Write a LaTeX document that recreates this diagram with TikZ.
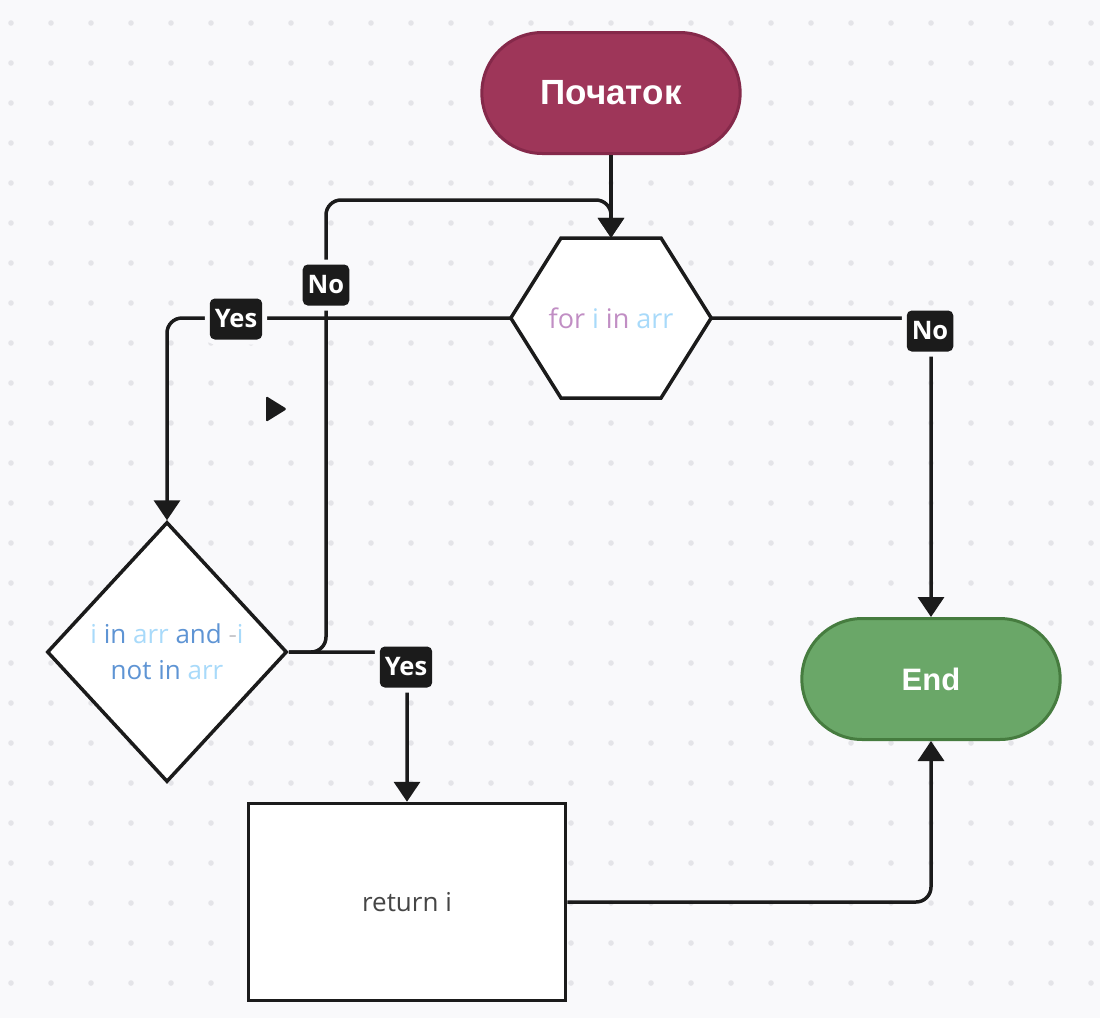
\documentclass[tikz,border=0pt]{standalone}
\usepackage{fontspec}
\setmainfont{Open Sans}
\newfontfamily\headfont{Liberation Sans}
\usetikzlibrary{shapes.misc,shapes.geometric,arrows.meta}
\definecolor{bg}{HTML}{F9F9FB}
\definecolor{dotc}{HTML}{E4E4E8}
\definecolor{ink}{HTML}{1B1B1B}
\definecolor{startfill}{HTML}{9E3659}
\definecolor{startdraw}{HTML}{85294A}
\definecolor{endfill}{HTML}{6AA768}
\definecolor{enddraw}{HTML}{467C3F}
\definecolor{mauve}{HTML}{C18EC4}
\definecolor{lblue}{HTML}{A8DAFA}
\definecolor{dblue}{HTML}{5E94D4}
\definecolor{minusc}{HTML}{C8C8CC}
\definecolor{txtgray}{HTML}{454545}
\tikzset{
  terminal/.style={rounded rectangle, minimum width=265pt, minimum height=121pt, line width=3pt, text=white, font=\headfont\bfseries\fontsize{31}{36}\selectfont},
  conn/.style={draw=ink, line width=3.5pt, rounded corners=15pt},
  arr/.style={-{Triangle[length=20pt,width=26pt]}},
  shapebox/.style={draw=ink, line width=3.5pt, fill=white},
  lbl/.style={fill=ink, text=white, rounded corners=5pt, inner xsep=5pt, inner ysep=0pt, minimum height=41pt,
     font=\bfseries\fontsize{25.5}{28}\selectfont, preaction={draw=bg, line width=10pt}},
  codetext/.style={font=\fontsize{26}{36}\selectfont, align=center}
}
\begin{document}
\begin{tikzpicture}[x=1pt,y=-1pt]
\fill[bg] (0,0) rectangle (1100,1018);
\useasboundingbox (0,0) rectangle (1100,1018);
\foreach \i in {0,...,27}{
  \foreach \j in {0,...,24}{
    \fill[dotc] (11+40*\i, 23+40*\j) circle (2.8pt);
  }
}
% nodes
\node[terminal, fill=startfill, draw=startdraw, font=\headfont\bfseries\fontsize{35}{40}\selectfont] (start) at (611,93) {Початок};
\node[terminal, fill=endfill, draw=enddraw] (endn) at (931,679) {End};
\node[minimum width=200pt, minimum height=160pt, inner sep=0pt] (hex) at (611,318) {};
\draw[shapebox, line join=miter] (hex.west) -- (561,238) -- (661,238) -- (hex.east) -- (661,398) -- (561,398) -- cycle;
\node[codetext, font=\fontsize{27}{36}\selectfont] (hext) at (hex.center) {\textcolor{mauve}{for} \textcolor{lblue}{i} \textcolor{mauve}{in} \textcolor{lblue}{arr}};
\node[diamond, shapebox, minimum width=240pt, minimum height=260pt, inner sep=0pt, codetext] (dia) at (167,652)
  {\textcolor{lblue}{i} \textcolor{dblue}{in} \textcolor{lblue}{arr} \textcolor{dblue}{and} \textcolor{minusc}{-}\textcolor{lblue}{i}\\
   \textcolor{dblue}{not in} \textcolor{lblue}{arr}};
\node[rectangle, shapebox, minimum width=317pt, minimum height=197pt, text=txtgray, font=\fontsize{26}{32}\selectfont] (ret) at (407,902) {return i};
% stray marker
\fill[ink, rounded corners=1.5pt] (266,396) -- (287,409) -- (266,422) -- cycle;
% waypoints
\coordinate (lp1) at (326,200);
% connectors
\draw[conn, arr] (start.south) -- (hex.north);
\draw[conn, arr] (dia.east) -| (lp1) -| (hex.north);
\draw[conn, arr] (hex.west) -| (dia.north);
\draw[conn, arr] (hex.east) -| (endn.north);
\draw[conn, arr] (dia.east) -| (ret.north);
\draw[conn, arr] (ret.east) -| (endn.south);
% labels
\node[lbl] (l1) at (326,285) {No};
\node[lbl] (l2) at (236,319) {Yes};
\node[lbl] (l3) at (930,331) {No};
\node[lbl] (l4) at (406,667) {Yes};
\end{tikzpicture}
\end{document}
